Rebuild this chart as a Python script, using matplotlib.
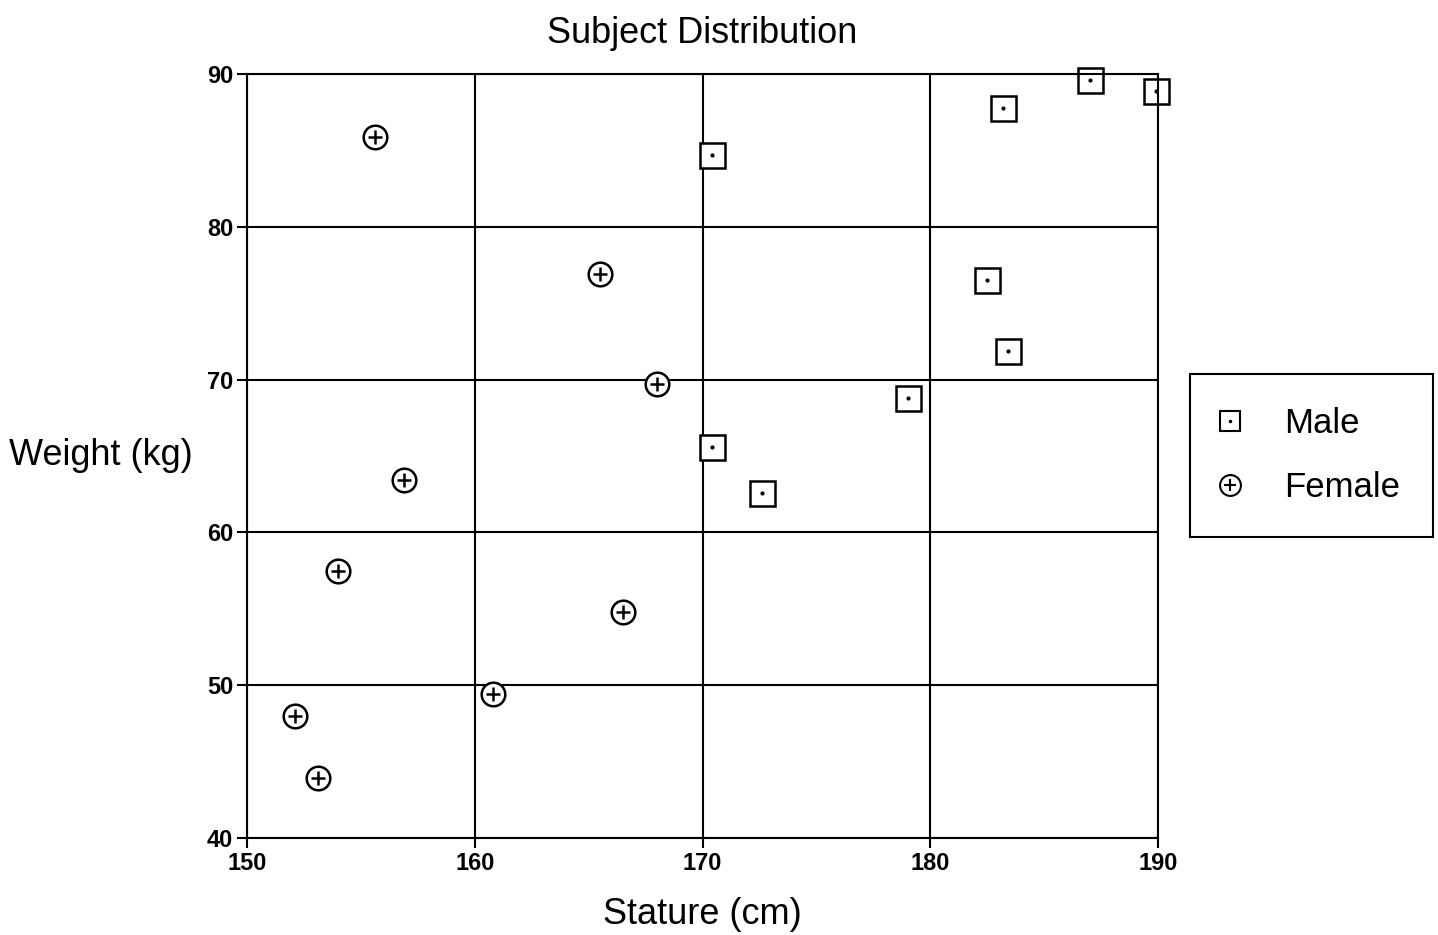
import matplotlib.pyplot as plt
from matplotlib.lines import Line2D

plt.rcParams['font.family'] = ['Liberation Sans Narrow', 'Liberation Sans', 'DejaVu Sans']

male_stature = [170.4, 183.2, 187.0, 189.9, 182.5, 183.4, 179.0, 170.4, 172.6]
male_weight = [84.7, 87.8, 89.6, 88.9, 76.5, 71.9, 68.8, 65.6, 62.6]

female_stature = [155.6, 165.5, 168.0, 156.9, 154.0, 166.5, 160.8, 152.1, 153.1]
female_weight = [85.9, 76.9, 69.7, 63.4, 57.5, 54.8, 49.4, 48.0, 43.9]

fig = plt.figure(figsize=(14.38, 9.35), dpi=100)
ax = fig.add_axes([0.1718, 0.1037, 0.8053 - 0.1718, 0.9209 - 0.1037])

ax.set_xlim(150, 190)
ax.set_ylim(40, 90)
ax.set_xticks([150, 160, 170, 180, 190])
ax.set_yticks([40, 50, 60, 70, 80, 90])
ax.grid(True, color='black', linewidth=1.5)
ax.set_axisbelow(True)
for s in ax.spines.values():
    s.set_linewidth(1.5)
ax.tick_params(labelsize=17, width=1.5, length=7, direction='out', pad=3)
for lab in ax.get_xticklabels() + ax.get_yticklabels():
    lab.set_fontweight('bold')

# male: square with centre dot
ax.plot(male_stature, male_weight, 's', ms=18, mfc='white', mec='black', mew=1.8, ls='none', clip_on=False)
ax.plot(male_stature, male_weight, '.', ms=4, color='black', ls='none', clip_on=False)
# female: circle with plus
ax.plot(female_stature, female_weight, 'o', ms=17, mfc='white', mec='black', mew=1.8, ls='none', clip_on=False)
ax.plot(female_stature, female_weight, '+', ms=10, mew=1.8, color='black', ls='none', clip_on=False)

ax.set_title('Subject Distribution', fontsize=26, pad=22)
ax.set_xlabel('Stature (cm)', fontsize=26, labelpad=16)
ax.set_ylabel('Weight (kg)', fontsize=26, rotation=0, va='center')
ax.yaxis.set_label_coords(-0.161, 0.5)

h_male = (Line2D([], [], marker='s', ms=15, mfc='white', mec='black', mew=1.5, ls='none'),
          Line2D([], [], marker='.', ms=3, color='black', ls='none'))
h_female = (Line2D([], [], marker='o', ms=15, mfc='white', mec='black', mew=1.5, ls='none'),
            Line2D([], [], marker='+', ms=9, mew=1.5, color='black', ls='none'))
leg = fig.legend([h_male, h_female], ['Male', 'Female'], fontsize=25,
                 loc='upper left', bbox_to_anchor=(1190 / 1438, 1 - 374 / 935),
                 frameon=True, fancybox=False, edgecolor='black', framealpha=1,
                 handlelength=0.4, handletextpad=1.35, labelspacing=0.9, borderpad=0.95,
                 borderaxespad=0)
leg.get_frame().set_linewidth(1.5)

fig.savefig('out.png', dpi=100)
